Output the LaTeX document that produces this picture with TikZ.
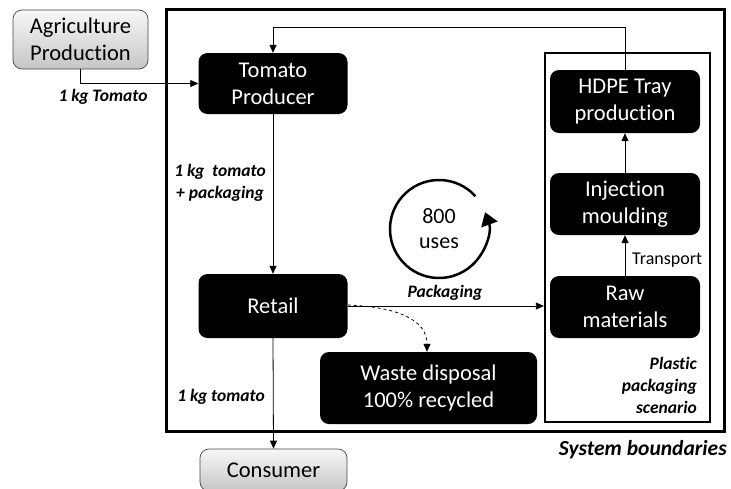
\documentclass[tikz,border=0pt]{standalone}
\usepackage{fontspec}
\setmainfont{Carlito}[Ligatures={NoCommon,NoRare,NoContextual}]
\usetikzlibrary{arrows.meta,calc}
% keep "t" and "i" apart
\newcommand{\tI}{t\kern0pt i}
\begin{document}
\begin{tikzpicture}[x=1pt,y=-1pt,
  proc/.style={fill=black, text=white, rounded corners=9pt, align=center,
    font=\fontsize{22.5}{27}\selectfont, inner sep=0pt},
  ext/.style={draw=gray!55!black, line width=0.7pt, top color=gray!6, bottom color=gray!45,
    rounded corners=9pt, align=center, font=\fontsize{22.5}{27}\selectfont, inner sep=0pt},
  lbl/.style={font=\fontsize{17.5}{22}\selectfont\bfseries\itshape, inner sep=0pt, align=center},
  flow/.style={-{Triangle[length=8pt,width=7pt]}, line width=0.8pt}
]
\useasboundingbox (0,0) rectangle (731,488);

% system boundaries and plastic packaging scenario frames
\node[draw, line width=3pt, minimum width=558pt, minimum height=422pt, inner sep=0pt] (sys) at (445,220) {};
\node[draw, line width=2.2pt, minimum width=165pt, minimum height=369pt, inner sep=0pt] (scen) at (627.5,237.5) {};

% process boxes
\node[ext, minimum width=135pt, minimum height=59pt] (agri) at (80.5,39.5) {Agriculture\\Produc\tI on};
\node[proc, minimum width=149pt, minimum height=61pt] (prod) at (273,83.5) {Tomato\\Producer};
\node[proc, minimum width=149pt, minimum height=64pt] (retail) at (273,306) {Retail};
\node[ext, minimum width=147pt, minimum height=42pt] (cons) at (273.5,470) {Consumer};
\node[proc, minimum width=217pt, minimum height=72pt] (waste) at (428.5,388) {Waste disposal\\100\% recycled};
\node[proc, minimum width=150pt, minimum height=63pt] (hdpe) at (625,101.5) {HDPE Tray\\produc\tI on};
\node[proc, minimum width=150pt, minimum height=62pt] (inj) at (625,204) {Injec\tI on\\moulding};
\node[proc, minimum width=150pt, minimum height=62pt] (raw) at (625,307) {Raw\\materials};

% flows
\coordinate (looptop) at (625,27);
\draw[flow] (agri.south) |- (prod.west);
\draw[flow] (prod.south) -- (retail.north);
\draw[flow] (retail.south) -- (cons.north);
\draw[flow] (retail.east) -- (retail.east -| scen.west);
\draw[flow, dashed] ([yshift=1pt]retail.east) .. controls +(50,2) and +(0,-32) .. ([xshift=-1.5pt]waste.north);
\draw[flow] (raw.north) -- (inj.south);
\draw[flow] (inj.north) -- (hdpe.south);
\draw[flow] (hdpe.north) -- (looptop) -| (prod.north);

% reuse loop
\node[font=\fontsize{22}{25}\selectfont, align=center, inner sep=0pt] (uses) at (439,229) {800\\uses};
\draw[line width=2.5pt, -{Triangle[length=13pt,width=17pt]}]
  (uses.center) ++(-42:49) arc[start angle=-42, end angle=-380, radius=49];

% labels
\node[lbl] (l1) at (103,97) {1 kg Tomato};
\node[lbl] (l2) at (220,183) {1 kg\ \ tomato\\+ packaging};
\node[lbl] (l3) at (445,293) {Packaging};
\node[lbl] (l4) at (221,397) {1 kg tomato};
\node[lbl, anchor=east, align=right] (l5) at (697,385) {Plas\tI c\\packaging\\scenario};
\node[lbl, font=\fontsize{21.5}{25}\selectfont\bfseries\itshape, anchor=east] (l6) at (727,450) {System boundaries};
\node[font=\fontsize{18}{21}\selectfont, anchor=west, inner sep=0pt] (l7) at (632,260) {Transport};
\end{tikzpicture}
\end{document}
